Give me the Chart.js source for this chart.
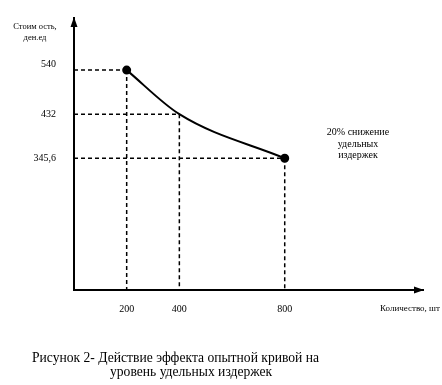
<!DOCTYPE html>
<html>
<head>
<meta charset="utf-8">
<script src="https://cdn.jsdelivr.net/npm/chart.js@4"></script>
<style>
  body { margin: 0; background: #fff; }
  #wrap { position: relative; width: 442px; height: 385px; }
</style>
</head>
<body>
<div id="wrap"><canvas id="costChart" width="442" height="385"></canvas></div>
<script>
// Data
const quantities = [200, 400, 800];
const unitCosts = [540, 432, 345.6];
const xTickValues = [200, 400, 800];
const yTickValues = [345.6, 432, 540];
const pointSizes = [3.5, 0, 3.5];

const serif = '"Liberation Serif", "Times New Roman", serif';

// Dashed guide lines from each point to the axes
const guideLines = {
  id: "guideLines",
  beforeDatasetsDraw(chart) {
    const { ctx, chartArea, scales } = chart;
    ctx.save();
    ctx.strokeStyle = "#000";
    ctx.lineWidth = 1.5;
    ctx.setLineDash([4, 3]);
    for (let i = 0; i < quantities.length; i++) {
      const px = scales.x.getPixelForValue(quantities[i]);
      const py = scales.y.getPixelForValue(unitCosts[i]);
      ctx.beginPath();
      ctx.moveTo(chartArea.left, py);
      ctx.lineTo(px, py);
      ctx.moveTo(px, py);
      ctx.lineTo(px, chartArea.bottom);
      ctx.stroke();
    }
    ctx.restore();
  },
};

// Arrows on the axes and all the loose text
const extras = {
  id: "extras",
  afterDraw(chart) {
    const { ctx, chartArea } = chart;
    const l = chartArea.left, t = chartArea.top, r = chartArea.right, b = chartArea.bottom;
    ctx.save();
    ctx.fillStyle = "#000";
    // y arrow
    ctx.beginPath();
    ctx.moveTo(l, t - 1);
    ctx.lineTo(l - 3.5, t + 9);
    ctx.lineTo(l + 3.5, t + 9);
    ctx.closePath();
    ctx.fill();
    // x arrow
    ctx.beginPath();
    ctx.moveTo(r + 1, b);
    ctx.lineTo(r - 9, b - 3.5);
    ctx.lineTo(r - 9, b + 3.5);
    ctx.closePath();
    ctx.fill();

    ctx.textBaseline = "middle";
    ctx.textAlign = "center";
    ctx.font = "8.5px " + serif;
    ctx.fillText("Стоим ость,", 35, 27);
    ctx.fillText("ден.ед", 35, 38);

    ctx.textAlign = "left";
    ctx.font = "9px " + serif;
    ctx.fillText("Количество, шт", 380, 309);

    ctx.textAlign = "center";
    ctx.font = "10px " + serif;
    ctx.fillText("20% снижение", 358, 132);
    ctx.fillText("удельных", 358, 144);
    ctx.fillText("издержек", 358, 155);

    ctx.textAlign = "left";
    ctx.font = "13.6px " + serif;
    ctx.fillText("Рисунок 2- Действие эффекта опытной кривой на", 32, 358);
    ctx.fillText("уровень удельных издержек", 110, 372);
    ctx.restore();
  },
};

const ctx = document.getElementById("costChart");

new Chart(ctx, {
  type: "line",
  data: {
    datasets: [
      {
        data: quantities.map((q, i) => ({ x: q, y: unitCosts[i] })),
        borderColor: "#000",
        backgroundColor: "#000",
        borderWidth: 2,
        pointRadius: pointSizes,
        pointHoverRadius: pointSizes,
        cubicInterpolationMode: "monotone",
        fill: false,
      },
    ],
  },
  options: {
    responsive: false,
    animation: false,
    layout: { padding: { left: 24, top: 18, right: 19, bottom: 65 } },
    plugins: {
      legend: { display: false },
      tooltip: { enabled: false },
    },
    scales: {
      x: {
        type: "linear",
        bounds: "data",
        min: 0,
        max: 1325,
        afterFit: (s) => {
          s.height = 30;
          s.paddingLeft = 0;
          s.paddingRight = 0;
        },
        afterBuildTicks: (s) => { s.ticks = xTickValues.map((v) => ({ value: v })); },
        grid: { display: false },
        border: { display: true, color: "#000", width: 2 },
        ticks: {
          color: "#000",
          font: { family: serif, size: 10 },
          padding: 5,
          maxRotation: 0,
          autoSkip: false,
        },
      },
      y: {
        type: "logarithmic",
        bounds: "data",
        min: 177.4,
        max: 703,
        afterFit: (s) => {
          s.width = 50;
          s.paddingTop = 0;
          s.paddingBottom = 0;
        },
        afterBuildTicks: (s) => { s.ticks = yTickValues.map((v) => ({ value: v })); },
        grid: { display: false },
        border: { display: true, color: "#000", width: 2 },
        ticks: {
          color: "#000",
          font: { family: serif, size: 10 },
          padding: 10,
          autoSkip: false,
          // the top label sits a little above its guide line in the original
          callback: (v) => {
            const txt = String(v).replace(".", ",");
            return v === 540 ? [txt, ""] : txt;
          },
        },
      },
    },
  },
  plugins: [guideLines, extras],
});
</script>
</body>
</html>
